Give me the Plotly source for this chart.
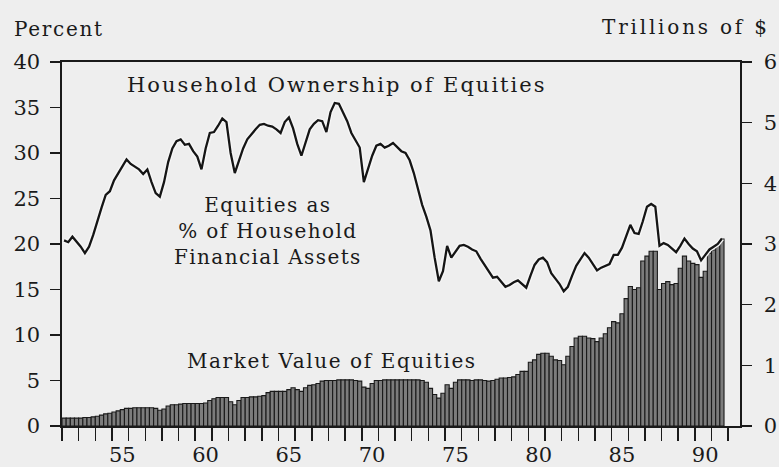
import plotly.graph_objects as go

# Quarterly data, 1952Q1 .. 1991Q3
start_year = 1952
n_quarters = 159

# Equities as % of household financial assets (left axis, percent)
equity_share_pct = [
    20.4, 20.2, 20.8, 20.3,   # 1952
    19.7, 19.0, 19.7, 21.0,   # 1953
    22.6, 24.0, 25.4, 25.8,   # 1954
    27.0, 27.8, 28.5, 29.3,   # 1955
    28.8, 28.5, 28.2, 27.7,   # 1956
    28.2, 26.8, 25.6, 25.2,   # 1957
    26.8, 29.0, 30.5, 31.3,   # 1958
    31.5, 30.9, 31.0, 30.2,   # 1959
    29.6, 28.2, 30.5, 32.2,   # 1960
    32.3, 33.0, 33.8, 33.4,   # 1961
    30.0, 27.8, 29.2, 30.5,   # 1962
    31.5, 32.1, 32.6, 33.1,   # 1963
    33.2, 33.0, 32.9, 32.6,   # 1964
    32.2, 33.4, 33.9, 32.7,   # 1965
    31.0, 29.7, 31.3, 32.6,   # 1966
    33.2, 33.6, 33.5, 32.3,   # 1967
    34.5, 35.5, 35.4, 34.5,   # 1968
    33.5, 32.2, 31.4, 30.6,   # 1969
    26.8, 28.2, 29.7, 30.8,   # 1970
    31.0, 30.6, 30.8, 31.1,   # 1971
    30.6, 30.2, 30.0, 29.2,   # 1972
    27.8, 26.0, 24.3, 23.0,   # 1973
    21.5, 18.5, 15.9, 17.0,   # 1974
    19.8, 18.5, 19.1, 19.8,   # 1975
    19.9, 19.7, 19.4, 19.2,   # 1976
    18.4, 17.7, 17.1, 16.3,   # 1977
    16.4, 15.8, 15.3, 15.5,   # 1978
    15.8, 16.0, 15.6, 15.2,   # 1979
    16.5, 17.7, 18.3, 18.5,   # 1980
    18.0, 16.8, 16.2, 15.6,   # 1981
    14.8, 15.3, 16.5, 17.6,   # 1982
    18.3, 19.0, 18.5, 17.8,   # 1983
    17.1, 17.4, 17.6, 17.8,   # 1984
    18.8, 18.8, 19.6, 20.8,   # 1985
    22.1, 21.2, 21.1, 22.5,   # 1986
    24.1, 24.4, 24.1, 19.8,   # 1987
    20.1, 19.9, 19.5, 19.1,   # 1988
    19.8, 20.6, 20.0, 19.5,   # 1989
    19.2, 18.2, 18.8, 19.4,   # 1990
    19.7, 20.0, 20.6,         # 1991
]

# Market value of equities (right axis, trillions of $)
market_value_tn = [
    0.13, 0.13, 0.13, 0.13,   # 1952
    0.13, 0.14, 0.14, 0.15,   # 1953
    0.16, 0.18, 0.20, 0.21,   # 1954
    0.23, 0.25, 0.27, 0.29,   # 1955
    0.29, 0.30, 0.30, 0.30,   # 1956
    0.30, 0.30, 0.29, 0.26,   # 1957
    0.28, 0.33, 0.35, 0.35,   # 1958
    0.36, 0.37, 0.37, 0.37,   # 1959
    0.37, 0.37, 0.38, 0.42,   # 1960
    0.45, 0.47, 0.47, 0.47,   # 1961
    0.40, 0.35, 0.42, 0.47,   # 1962
    0.47, 0.48, 0.48, 0.49,   # 1963
    0.50, 0.55, 0.57, 0.57,   # 1964
    0.57, 0.57, 0.60, 0.63,   # 1965
    0.60, 0.57, 0.63, 0.67,   # 1966
    0.68, 0.70, 0.74, 0.75,   # 1967
    0.75, 0.75, 0.76, 0.76,   # 1968
    0.76, 0.76, 0.75, 0.74,   # 1969
    0.64, 0.62, 0.70, 0.75,   # 1970
    0.75, 0.76, 0.76, 0.76,   # 1971
    0.76, 0.76, 0.76, 0.76,   # 1972
    0.76, 0.76, 0.75, 0.72,   # 1973
    0.62, 0.52, 0.46, 0.54,   # 1974
    0.68, 0.62, 0.72, 0.76,   # 1975
    0.76, 0.76, 0.75, 0.76,   # 1976
    0.76, 0.75, 0.74, 0.75,   # 1977
    0.77, 0.79, 0.79, 0.80,   # 1978
    0.81, 0.85, 0.90, 0.90,   # 1979
    1.05, 1.09, 1.18, 1.20,   # 1980
    1.20, 1.15, 1.09, 1.08,   # 1981
    1.01, 1.15, 1.31, 1.45,   # 1982
    1.48, 1.48, 1.45, 1.44,   # 1983
    1.39, 1.45, 1.52, 1.62,   # 1984
    1.72, 1.70, 1.85, 2.10,   # 1985
    2.30, 2.25, 2.28, 2.72,   # 1986
    2.80, 2.88, 2.88, 2.25,   # 1987
    2.35, 2.38, 2.33, 2.35,   # 1988
    2.60, 2.80, 2.72, 2.68,   # 1989
    2.66, 2.45, 2.55, 2.85,   # 1990
    2.90, 3.00, 3.08,         # 1991
]

# x-axis: year labels (two-digit), year boundary ticks
year_label_years = [1955, 1960, 1965, 1970, 1975, 1980, 1985, 1990]
year_labels = ["55", "60", "65", "70", "75", "80", "85", "90"]
year_tick_years = list(range(1952, 1993))

pct_ticks = [0, 5, 10, 15, 20, 25, 30, 35, 40]
tn_ticks = [0, 1, 2, 3, 4, 5, 6]

# quarter mid-points
quarters = [start_year + i / 4 + 0.125 for i in range(n_quarters)]

INK = "#1a1a1a"
BG = "#eeeeee"
FONT = "DejaVu Serif"
TICKFONT = dict(family=FONT, size=21, color=INK)

fig = go.Figure()

fig.add_trace(go.Bar(
    x=quarters, y=market_value_tn, xaxis="x", yaxis="y",
    marker=dict(color="#7c7c7c", line=dict(color="#1a1a1a", width=1.1)),
    hoverinfo="skip",
))
fig.add_trace(go.Scatter(
    x=quarters, y=equity_share_pct, xaxis="x", yaxis="y2", mode="lines",
    line=dict(color="#f6f6f6", width=5), hoverinfo="skip",
))
fig.add_trace(go.Scatter(
    x=quarters, y=equity_share_pct, xaxis="x", yaxis="y2", mode="lines",
    line=dict(color="#151515", width=2.3), hoverinfo="skip",
))

fig.update_layout(
    width=779, height=467,
    margin=dict(l=62, r=39, t=62, b=41),
    paper_bgcolor=BG, plot_bgcolor=BG,
    showlegend=False, bargap=0,
    font=dict(family=FONT, size=20, color=INK),
    xaxis=dict(
        range=[1952, 1992.71], automargin=False,
        tickvals=[y + 0.62 for y in year_label_years], ticktext=year_labels,
        ticks="outside", ticklen=9, tickcolor="rgba(0,0,0,0)",
        minor=dict(tickvals=year_tick_years, ticks="outside", ticklen=13,
                   tickcolor=INK, tickwidth=1.5),
        showline=True, linecolor=INK, linewidth=1.6, mirror=True,
        showgrid=False, zeroline=False,
        tickfont=TICKFONT,
    ),
    yaxis=dict(
        range=[0, 6], side="right", tickvals=tn_ticks, automargin=False,
        ticks="outside", ticklen=10, tickwidth=1.5, tickcolor=INK,
        showline=True, linecolor=INK, linewidth=1.6,
        showgrid=False, zeroline=False,
        tickfont=TICKFONT,
        ticklabelstandoff=8,
    ),
    yaxis2=dict(
        range=[0, 40], side="left", overlaying="y", tickvals=pct_ticks,
        automargin=False,
        ticks="outside", ticklen=10, tickwidth=1.5, tickcolor=INK,
        showline=True, linecolor=INK, linewidth=1.6,
        showgrid=False, zeroline=False,
        tickfont=TICKFONT,
        ticklabelstandoff=6,
    ),
)

def note(text, x, y, xanchor="center", size=20, spacing=1.5):
    styled = "<br>".join(
        f'<span style="letter-spacing:{spacing}px">{line}</span>'
        for line in text.split("<br>")
    )
    fig.add_annotation(text=styled, xref="paper", yref="paper", x=x, y=y,
                       xanchor=xanchor, yanchor="middle", showarrow=False,
                       font=dict(family=FONT, size=size, color=INK), align="center")

note("Percent", -0.074, 1.091, xanchor="left", size=20, spacing=1.7)
note("Trillions of $", 1.047, 1.096, xanchor="right", size=20, spacing=2.8)
note("Household Ownership of Equities", 0.405, 0.937, size=21, spacing=2)
note("Equities as<br>% of Household<br>Financial Assets", 0.304, 0.536, size=20, spacing=1.4)
note("Market Value of Equities", 0.398, 0.179, size=20, spacing=1.6)

page_fix = (
    "document.documentElement.style.margin='0';"
    "document.body.style.margin='0';"
    "document.body.style.padding='0';"
    "document.body.style.overflow='hidden';"
    "document.documentElement.style.background='#eeeeee';"
    "document.body.style.background='#eeeeee';"
)

fig.write_html("out.html", post_script=page_fix,
               config={"displayModeBar": False, "staticPlot": True})
